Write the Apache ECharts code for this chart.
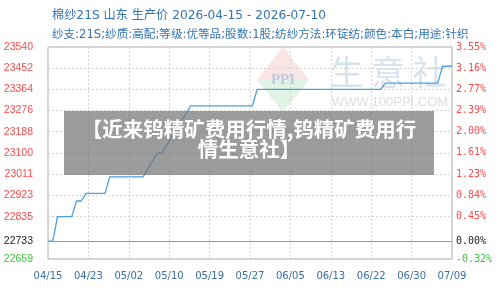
<!DOCTYPE html>
<html>
<head>
<meta charset="utf-8">
<script src="https://cdn.jsdelivr.net/npm/echarts@6/dist/echarts.min.js"></script>
<style>html,body{margin:0;padding:0;background:#fff}#c{width:500px;height:288px}</style>
</head>
<body>
<div id="c"></div>
<script>
var titleLine1 = '棉纱21S 山东 生产价 2026-04-15 - 2026-07-10';
var titleLine2 = '纱支:21S;纱质:高配;等级:优等品;股数:1股;纺纱方法:环锭纺;颜色:本白;用途:针织';
var overlayText = '【近来钨精矿费用行情,钨精矿费用行\n情生意社】';

var xTickLabels = ['04/15','04/23','05/02','05/10','05/19','05/27','06/05','06/13','06/22','06/30','07/09'];
var xTickStep = 8.5;
var xMaxDay = 85;

var yTickValues = [22659, 22733, 22835, 22923, 23011, 23100, 23188, 23276, 23364, 23452, 23540];
var yLeftLabels = ['22659','22733','22835','22923','23011','23100','23188','23276','23364','23452','23540'];
var yRightLabels = ['-0.32%','0.00%','0.45%','0.84%','1.23%','1.61%','2.00%','2.39%','2.77%','3.16%','3.55%'];
var baseValue = 22733;

var days   = [0, 1, 2, 5, 6, 7, 8, 12, 13, 20, 23, 24, 30, 43, 44, 70, 71, 82, 83, 85];
var prices = [22733, 22733, 22835, 22835, 22900, 22900, 22932, 22932, 23000, 23000, 23100, 23100, 23295, 23295, 23364, 23364, 23390, 23390, 23460, 23460];

var seriesData = days.map(function (d, i) { return [d, prices[i]]; });

function labelColor(v) {
  if (v > baseValue) return '#ff4a4a';
  if (v < baseValue) return '#3ec43e';
  return '#222';
}

var titleFont = '"DejaVu Sans", "Noto Sans CJK SC", sans-serif';

var chart = echarts.init(document.getElementById('c'), null, {renderer: 'canvas'});
chart.setOption({
  animation: false,
  backgroundColor: '#fff',
  textStyle: {fontFamily: '"Noto Sans CJK SC", "Liberation Sans", sans-serif'},
  title: [
    {text: titleLine1, left: 47, top: 5, textStyle: {fontSize: 12.2, fontWeight: 'normal', color: '#3473b0', fontFamily: titleFont}},
    {text: titleLine2, left: 47, top: 24, textStyle: {fontSize: 11.6, fontWeight: 'normal', color: '#3473b0', fontFamily: titleFont}}
  ],
  grid: {left: 48, right: 48, top: 47, bottom: 29, show: true, borderColor: '#aaa', borderWidth: 1, containLabel: false},
  xAxis: {
    type: 'value', min: 0, max: xMaxDay, interval: xTickStep,
    axisLine: {show: false}, axisTick: {show: false},
    splitLine: {show: true, lineStyle: {color: '#d4d4d4', type: [2, 2], width: 1}},
    axisLabel: {
      margin: 12, fontSize: 10, color: '#3a6fa5', fontFamily: '"DejaVu Sans", sans-serif',
      formatter: function (v) { var i = Math.round(v / xTickStep); return xTickLabels[i] || ''; }
    }
  },
  yAxis: [
    {
      type: 'value', min: 22659, max: 23540, position: 'left',
      axisLine: {show: false},
      axisTick: {show: false, customValues: yTickValues},
      splitLine: {show: true, lineStyle: {color: '#d4d4d4', type: [2, 2], width: 1}},
      axisLabel: {
        customValues: yTickValues, margin: 15, fontSize: 10.5, fontFamily: '"Liberation Sans", sans-serif',
        formatter: function (v) { var i = yTickValues.indexOf(v); return i >= 0 ? yLeftLabels[i] : ''; },
        color: function (v) { return labelColor(v); }
      }
    },
    {
      type: 'value', min: 22659, max: 23540, position: 'right',
      axisLine: {show: false},
      axisTick: {show: false, customValues: yTickValues},
      splitLine: {show: false},
      axisLabel: {
        customValues: yTickValues, margin: 4, fontSize: 10, fontFamily: '"DejaVu Sans Mono", monospace',
        formatter: function (v) { var i = yTickValues.indexOf(v); return i >= 0 ? yRightLabels[i] : ''; },
        color: function (v) { return labelColor(v); }
      }
    }
  ],
  graphic: [
    {type: 'polygon', shape: {points: [[283, 47], [309, 80], [257, 80]]}, style: {fill: 'rgba(240,180,180,0.35)'}, z: 0, silent: true},
    {type: 'polygon', shape: {points: [[257, 80], [309, 80], [283, 112]]}, style: {fill: 'rgba(170,220,180,0.35)'}, z: 0, silent: true},
    {type: 'text', x: 283, y: 80, style: {text: 'PPI', font: 'bold 15px "Liberation Serif", serif', fill: 'rgba(150,175,215,0.55)', align: 'center', verticalAlign: 'middle'}, z: 0, silent: true},
    {type: 'text', x: 388, y: 72, style: {text: '生 意 社', font: '34px "Noto Sans CJK SC", sans-serif', fill: 'rgba(170,190,215,0.45)', align: 'center', verticalAlign: 'middle'}, z: 0, silent: true},
    {type: 'text', x: 390, y: 102, style: {text: 'WWW.100PPI.COM', font: '13px "Liberation Sans", sans-serif', fill: 'rgba(190,190,190,0.5)', align: 'center', verticalAlign: 'middle'}, z: 0, silent: true},
    {type: 'rect', shape: {x: 64, y: 111, width: 370, height: 64}, style: {fill: 'rgba(118,118,118,0.72)'}, z: 100, silent: true},
    {type: 'text', x: 249, y: 139, style: {text: overlayText, font: 'bold 20.5px "Noto Sans CJK SC", sans-serif', fill: '#fff', align: 'center', verticalAlign: 'middle', lineHeight: 20}, z: 101, silent: true}
  ],
  series: [{
    type: 'line', data: seriesData, showSymbol: false, symbol: 'none',
    lineStyle: {color: '#4f9fdc', width: 1.3},
    yAxisIndex: 0,
    markLine: {
      silent: true, symbol: 'none', animation: false,
      label: {show: false},
      lineStyle: {color: '#999', type: 'solid', width: 1},
      data: [{yAxis: baseValue}]
    }
  }]
});
</script>
</body>
</html>
